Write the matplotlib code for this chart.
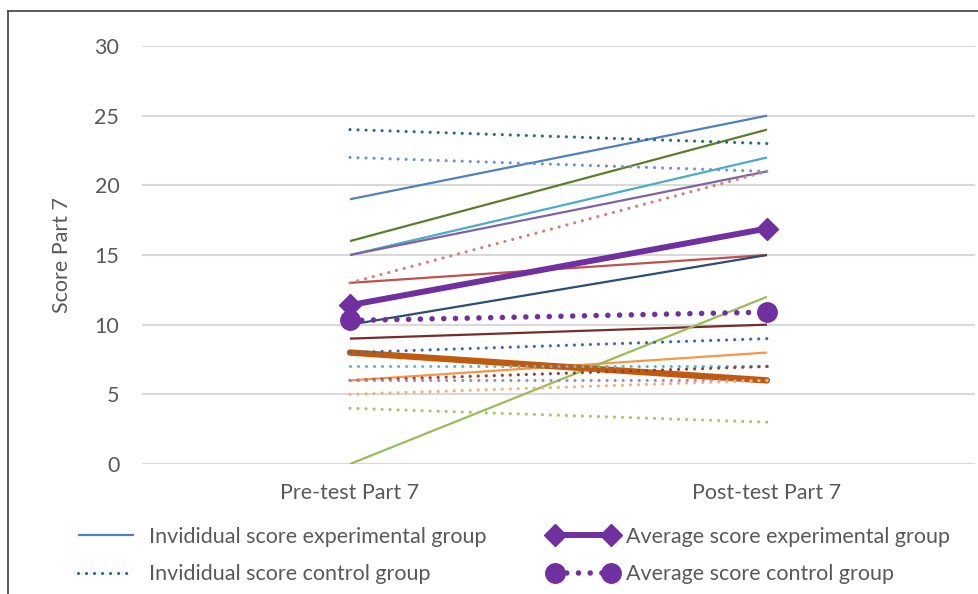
import matplotlib
matplotlib.use("Agg")
import matplotlib.pyplot as plt
from matplotlib.lines import Line2D

plt.rcParams['font.family'] = ['Lato', 'DejaVu Sans']

categories = ["Pre-test Part 7", "Post-test Part 7"]

# individual scores, experimental group (pre, post)
exp_pre = [19, 16, 15, 15, 13, 10, 9, 6, 0]
exp_post = [25, 24, 22, 21, 15, 15, 10, 8, 12]
exp_colors = ["#4F81BD", "#5E7D2C", "#4BACC6", "#8064A2", "#C0504D",
              "#2C4D75", "#772C2A", "#F79646", "#9BBB59"]

# the one heavy individual line
thick_pre, thick_post = 8, 6

# individual scores, control group (pre, post)
ctrl_pre = [24, 22, 13, 8, 7, 6, 6, 5, 4]
ctrl_post = [23, 21, 21, 9, 7, 7, 6, 6, 3]
ctrl_colors = ["#2A6F80", "#6F97CF", "#D47F7C", "#3A6CB0", "#5BBAD0",
               "#9E3B38", "#9F8BC2", "#F9AE72", "#A8C66C"]

avg_exp = [11.4, 16.9]
avg_ctrl = [10.3, 10.9]

text_col = "#595959"
grid_col = "#D9D9D9"
fs = 15.5

fig = plt.figure(figsize=(9.79, 5.94), dpi=100)
ax = fig.add_axes([141.5 / 979, 1 - 464 / 594, (975.5 - 141.5) / 979, (464 - 46) / 594])

x = [0, 1]
dot = (0, (0.01, 2.5))

handles = []
for i, (a, b) in enumerate(zip(exp_pre, exp_post)):
    ln, = ax.plot(x, [a, b], color=exp_colors[i], lw=1.6, solid_capstyle='butt', zorder=3)
    if i == 0:
        handles.append(ln)

ax.plot(x, [thick_pre, thick_post], color="#C05A0E", lw=4.6, solid_capstyle='round', zorder=3)

for i, (a, b) in enumerate(zip(ctrl_pre, ctrl_post)):
    ln, = ax.plot(x, [a, b], color=ctrl_colors[i], lw=2.3, linestyle=dot,
                  dash_capstyle='round', zorder=4)
    if i == 0:
        handles.append(ln)

h_avg_exp, = ax.plot(x, avg_exp, color="#7030A0", lw=4.3, marker='D', markersize=11,
                     solid_capstyle='butt', zorder=5)
h_avg_ctrl, = ax.plot(x, avg_ctrl, color="#7030A0", lw=4.0, linestyle=(0, (0.01, 2.1)),
                      dash_capstyle='round', marker='o', markersize=14, zorder=5)

ax.set_xlim(-0.5, 1.5)
ax.set_ylim(0, 30)
ax.set_yticks(range(0, 31, 5))
ax.set_xticks(x)
ax.set_xticklabels(categories)
ax.yaxis.grid(True, color=grid_col, lw=1.5)
ax.set_axisbelow(True)
for s in ['top', 'right', 'left', 'bottom']:
    ax.spines[s].set_visible(False)
ax.tick_params(length=0, labelsize=fs, colors=text_col)
ax.tick_params(axis='y', pad=16)
ax.tick_params(axis='x', pad=14)
ax.set_ylabel("Score Part 7", fontsize=fs, color=text_col, labelpad=16)

fig.legend([handles[0], handles[1], h_avg_exp, h_avg_ctrl],
           ["Invididual score experimental group", "Invididual score control group",
            "Average score experimental group", "Average score control group"],
           ncol=2, loc='upper left', bbox_to_anchor=(72 / 979, 1 - 527 / 594),
           frameon=False, fontsize=fs, labelcolor=text_col, numpoints=2,
           handlelength=3.2, handletextpad=0.37, columnspacing=2.9,
           labelspacing=0.8, borderpad=0, borderaxespad=0)

# outer frame, only its left and top edges fall inside the image
fig.add_artist(Line2D([8 / 979, 8 / 979], [0, 1 - 11 / 594], transform=fig.transFigure,
                      color="#404040", lw=1.2))
fig.add_artist(Line2D([8 / 979, 1], [1 - 11 / 594, 1 - 11 / 594], transform=fig.transFigure,
                      color="#404040", lw=1.2))

fig.savefig("out.png", dpi=100)
